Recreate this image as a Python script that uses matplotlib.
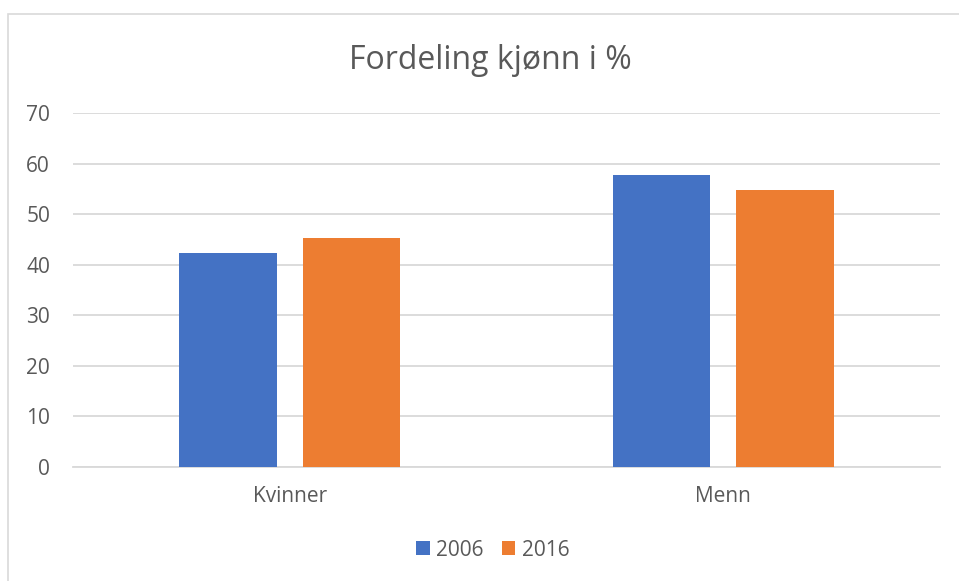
import matplotlib.pyplot as plt
from matplotlib.patches import Rectangle
import numpy as np

plt.rcParams["font.family"] = ["Open Sans", "DejaVu Sans"]

categories = ["Kvinner", "Menn"]
years = ["2006", "2016"]
values_2006 = [42.3, 57.7]
values_2016 = [45.3, 54.7]
yticks = [0, 10, 20, 30, 40, 50, 60, 70]

BLUE = "#4472C4"
ORANGE = "#ED7D31"
GRID = "#D9D9D9"
TEXT = "#595959"


def main():
    W, H = 959, 581
    fig = plt.figure(figsize=(W / 100, H / 100), dpi=100)

    # chart border (clipped at right and bottom in the reference)
    fig.patches.append(Rectangle((8 / W, -0.1), 1.2, 1 - 14 / H + 0.1,
                                 transform=fig.transFigure, fill=False,
                                 edgecolor=GRID, linewidth=1.2))

    ax = fig.add_axes([73 / W, 1 - 467 / H, (940 - 73) / W, (467 - 113) / H])

    x = np.arange(len(categories))
    width = 0.224
    offset = 0.1425
    ax.bar(x - offset, values_2006, width, color=BLUE, label=years[0], zorder=3)
    ax.bar(x + offset, values_2016, width, color=ORANGE, label=years[1], zorder=3)

    ax.set_xlim(-0.5, 1.5)
    ax.set_ylim(0, 70)
    ax.set_yticks(yticks)
    ax.set_xticks(x)
    ax.set_xticklabels(categories)
    ax.yaxis.grid(True, color=GRID, linewidth=1.3, zorder=0)
    ax.set_axisbelow(True)
    for side in ["top", "right", "left"]:
        ax.spines[side].set_visible(False)
    ax.spines["bottom"].set_color(GRID)
    ax.spines["bottom"].set_linewidth(1.3)
    ax.tick_params(axis="both", length=0, labelsize=15, colors=TEXT)
    ax.tick_params(axis="y", pad=16.5)
    ax.tick_params(axis="x", pad=14)

    fig.text(490 / W, 1 - 69 / H, "Fordeling kjønn i %", ha="center",
             va="baseline", fontsize=23, color=TEXT)

    fig.legend(loc="center", bbox_to_anchor=(493 / W, 1 - 550 / H), ncol=2,
               frameon=False, fontsize=15, labelcolor=TEXT, handlelength=0.63,
               handleheight=0.63, handletextpad=0.33, columnspacing=0.87)

    fig.savefig("out.png", dpi=100)


if __name__ == "__main__":
    main()
